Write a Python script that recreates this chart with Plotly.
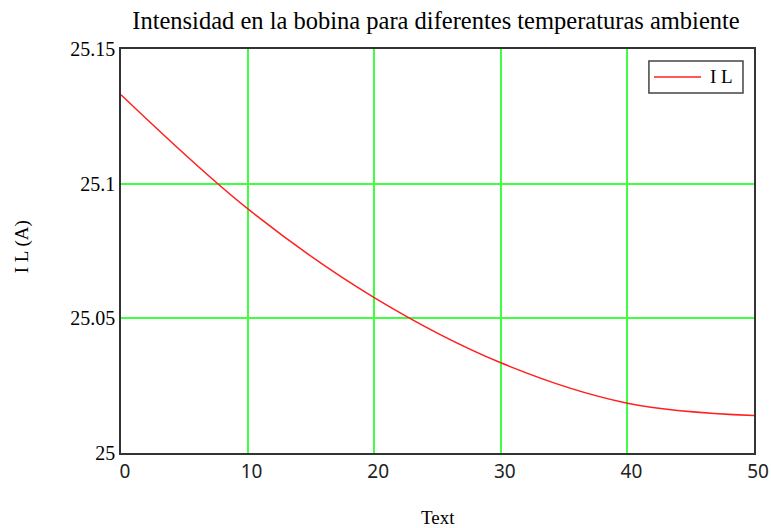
import plotly.graph_objects as go

# Data
temp_ext = [0, 10, 20, 30, 40, 50]
i_l = [25.133, 25.0907, 25.0577, 25.0335, 25.0185, 25.0139]

x_ticks = [0, 10, 20, 30, 40, 50]
y_ticks = [25, 25.05, 25.1, 25.15]
y_ticklabels = ["25", "25.05", "25.1", "25.15"]
series_name = "I L"

serif = "Liberation Serif"
line_color = "#ff2020"
grid_color = "#40ff40"

fig = go.Figure()
fig.add_trace(go.Scatter(
    x=temp_ext, y=i_l, mode="lines", name=series_name, showlegend=False,
    line=dict(color=line_color, width=1.5, shape="spline", smoothing=1.0),
))

fig.update_layout(
    width=771, height=528,
    margin=dict(l=121, r=17, t=49, b=75),
    paper_bgcolor="white", plot_bgcolor="white",
    title=dict(text="Intensidad en la bobina para diferentes temperaturas ambiente",
               x=0.5655, xanchor="center", y=0.962, yanchor="middle",
               font=dict(family=serif, size=24.5, color="black")),
    showlegend=False,
    xaxis=dict(range=[0, 50], tickvals=x_ticks, showgrid=True, automargin=False,
               gridcolor=grid_color, gridwidth=1.5, zeroline=False,
               showline=True, linecolor="#333", linewidth=1.5, mirror=True,
               ticks="", ticklen=0, ticklabelshift=4,
               tickfont=dict(family="Noto Sans", size=19, color="#222")),
    yaxis=dict(range=[25, 25.15], tickvals=y_ticks, ticktext=y_ticklabels,
               showgrid=True, gridcolor=grid_color, gridwidth=1.5, zeroline=False,
               showline=True, linecolor="#333", linewidth=1.5, mirror=True,
               automargin=False, ticks="", ticklen=0,
               tickfont=dict(family=serif, size=20, color="black")),
    shapes=[
        # legend box
        dict(type="rect", xref="paper", yref="paper", x0=0.834, x1=0.9826,
             y0=0.891, y1=0.970, line=dict(color="#444", width=1.5),
             fillcolor="white", layer="above"),
        # legend line sample
        dict(type="line", xref="paper", yref="paper", x0=0.842, x1=0.9163,
             y0=0.9307, y1=0.9307, line=dict(color=line_color, width=1.5),
             layer="above"),
    ],
    annotations=[
        dict(text=series_name, xref="paper", yref="paper", x=0.948, y=0.9307,
             xanchor="center", yanchor="middle", showarrow=False,
             font=dict(family=serif, size=19, color="black")),
        dict(text="Text", xref="paper", yref="paper", x=0.5, y=-0.159,
             xanchor="center", yanchor="middle", showarrow=False,
             font=dict(family=serif, size=19, color="black")),
        dict(text="I L (A)", xref="paper", yref="paper", x=-0.156, y=0.51,
             xanchor="center", yanchor="middle", showarrow=False, textangle=-90,
             font=dict(family=serif, size=19, color="black")),
    ],
)

fig.write_html("out.html", config={"displayModeBar": False},
               post_script="document.body.style.margin='0';document.body.style.padding='0';")
